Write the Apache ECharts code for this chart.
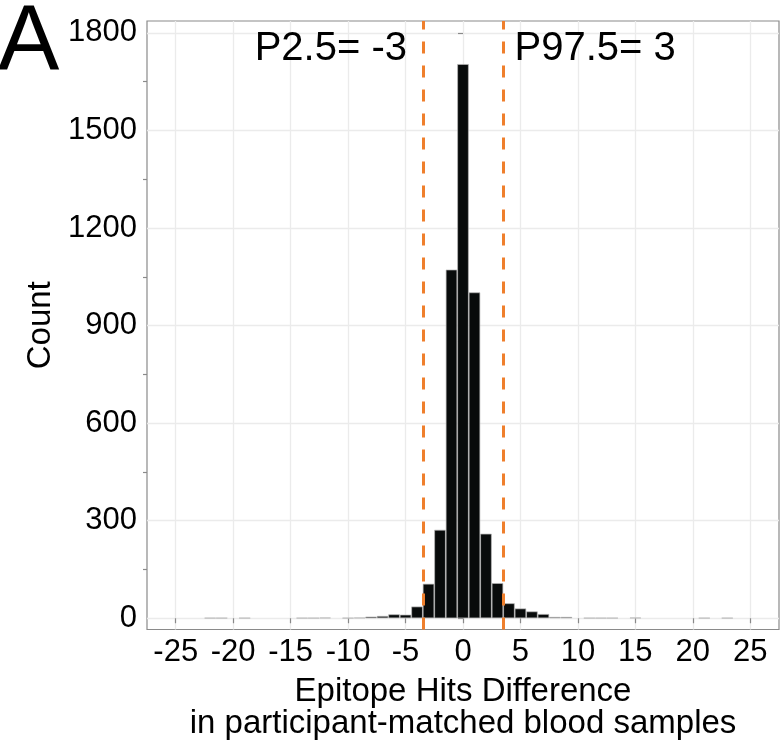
<!DOCTYPE html>
<html><head><meta charset="utf-8">
<script src="https://cdn.jsdelivr.net/npm/echarts@6/dist/echarts.min.js"></script>
<style>html,body{margin:0;padding:0;background:#fff}#c{width:780px;height:745px}</style>
</head><body><div id="c"></div>
<script>
// ---- data ----
const binCenters = [-22,-21,-19,-14,-13,-12,-10,-9,-8,-7,-6,-5,-4,-3,-2,-1,0,1,2,3,4,5,6,7,8,9,11,12,13,15,21,23];
const counts     = [1,1,1,1,1,2,1,2,5,7,12,11,36,106,272,1072,1704,1002,260,108,46,30,21,13,4,4,1,1,1,2,1,1];
const xTicks = [-25,-20,-15,-10,-5,0,5,10,15,20,25];
const yTicks = [0,300,600,900,1200,1500,1800];
const yMinorTicks = [150,450,750,1050,1350,1650];
const percentileLines = [-3.5, 3.5];
const percentileLabels = ['P2.5= -3', 'P97.5= 3'];
const labelX = [-11.5, 11.5];
const labelY = 1750;
const xTitle = 'Epitope Hits Difference\nin participant-matched blood samples';
const yTitle = 'Count';
const panelTag = 'A';

// ---- chart ----
const FONT = '"Liberation Sans", Arial, Helvetica, sans-serif';
const AXIS_GREY = '#8a8a8a';
const GRID_GREY = '#ebebeb';
const chart = echarts.init(document.getElementById('c'), null, {renderer: 'canvas'});
chart.setOption({
  animation: false,
  textStyle: {fontFamily: FONT},
  grid: {left: 147, top: 21, right: 1, bottom: 113, show: true, borderColor: AXIS_GREY, borderWidth: 1.2, backgroundColor: 'transparent'},
  graphic: [{type: 'text', left: -2, top: -1, style: {text: panelTag, fontSize: 92, fill: '#000', fontFamily: FONT}}],
  xAxis: {
    type: 'value', min: -27.5, max: 27.5,
    axisLine: {show: false},
    axisTick: {show: true, customValues: xTicks, length: 5, lineStyle: {color: AXIS_GREY, width: 1.2}},
    axisLabel: {customValues: xTicks, fontSize: 31, color: '#000', margin: 7, fontFamily: FONT,
      formatter: v => String(v)},
    splitLine: {show: true, lineStyle: {color: GRID_GREY, width: 1.3}},
    name: xTitle, nameLocation: 'middle', nameGap: 46,
    nameTextStyle: {fontSize: 33, lineHeight: 32, color: '#000', fontFamily: FONT}
  },
  yAxis: [{
    type: 'value', min: -34.6, max: 1836.5,
    axisLine: {show: false},
    axisTick: {show: true, customValues: yTicks, length: 5, lineStyle: {color: AXIS_GREY, width: 1.2}},
    axisLabel: {customValues: yTicks, fontSize: 31, color: '#000', margin: 10, fontFamily: FONT,
      formatter: v => String(v)},
    splitLine: {show: true, lineStyle: {color: GRID_GREY, width: 1.3}},
    name: yTitle, nameLocation: 'middle', nameGap: 74,
    nameTextStyle: {fontSize: 33, color: '#000', fontFamily: FONT}
  }, {
    type: 'value', min: -34.6, max: 1836.5, position: 'right', offset: -632,
    axisLine: {show: false},
    axisTick: {show: true, inside: true, customValues: yMinorTicks, length: 4, lineStyle: {color: AXIS_GREY, width: 1.2}},
    axisLabel: {show: false},
    splitLine: {show: false}
  }],
  series: [{
    type: 'bar',
    data: binCenters.map((x, i) => [x, counts[i]]),
    barWidth: '100%',
    itemStyle: {color: '#080b0b', borderColor: '#b8b8b8', borderWidth: 0.7},
    markLine: {
      silent: true, symbol: ['none', 'none'],
      label: {show: false},
      lineStyle: {color: '#EF7F2C', width: 3, type: [12, 12]},
      data: percentileLines.map(v => ({xAxis: v}))
    }
  }, {
    type: 'scatter', symbolSize: 0, silent: true,
    itemStyle: {opacity: 1},
    data: labelX.map((x, i) => ({value: [x, labelY],
      label: {formatter: percentileLabels[i], color: '#000', opacity: 1}})),
    label: {show: true, position: 'inside', fontSize: 40, color: '#000', opacity: 1, fontFamily: FONT}
  }]
});
</script>
</body></html>
